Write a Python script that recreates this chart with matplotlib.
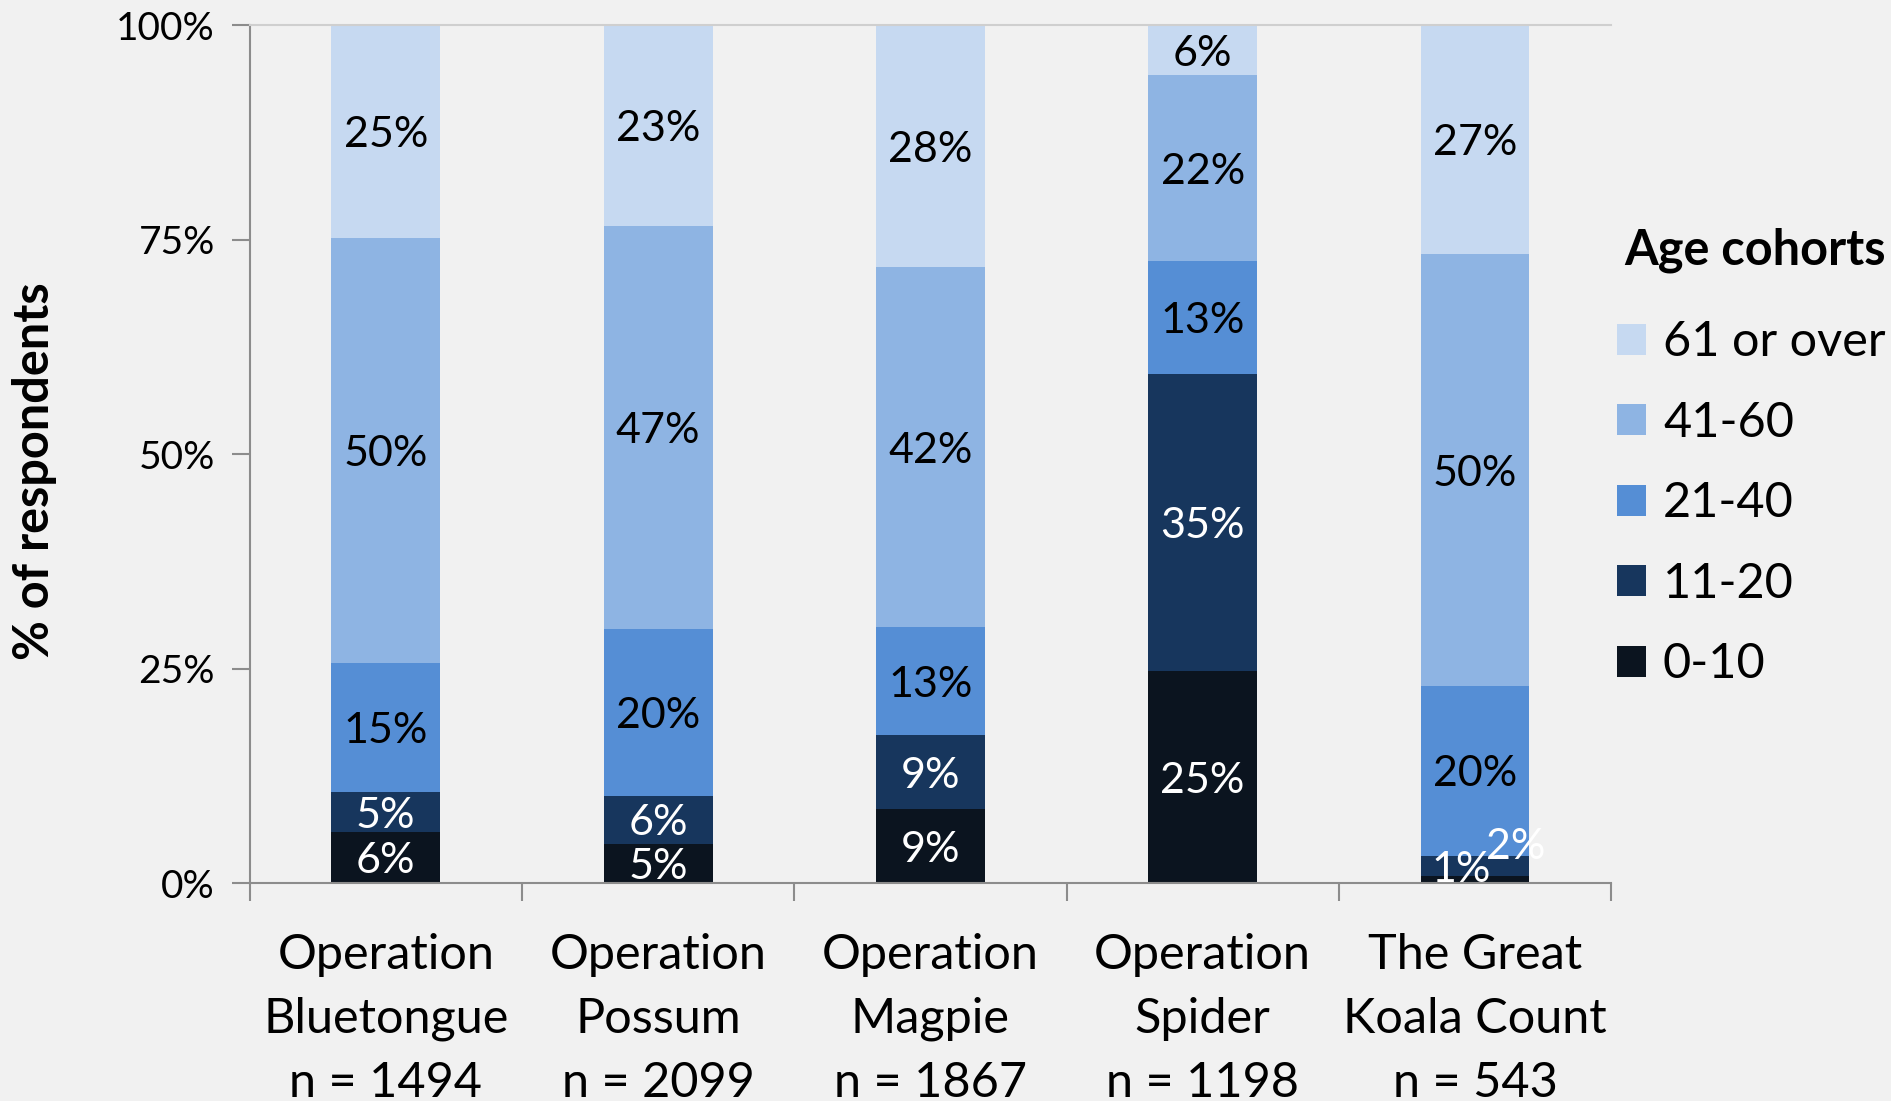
import matplotlib
matplotlib.use('Agg')
import matplotlib.pyplot as plt
import numpy as np
from matplotlib.patches import Patch

categories = [
    'Operation\nBluetongue\nn = 1494',
    'Operation\nPossum\nn = 2099',
    'Operation\nMagpie\nn = 1867',
    'Operation\nSpider\nn = 1198',
    'The Great\nKoala Count\nn = 543',
]
cohorts = ['0-10', '11-20', '21-40', '41-60', '61 or over']
# percent of respondents per cohort and survey
age_0_10 = [5.9, 4.6, 8.6, 24.7, 0.8]
age_11_20 = [4.7, 5.5, 8.6, 34.6, 2.4]
age_21_40 = [15.0, 19.5, 12.6, 13.2, 19.8]
age_41_60 = [49.6, 47.0, 42.0, 21.7, 50.3]
age_61_over = [24.8, 23.4, 28.2, 5.8, 26.7]

colors = ['#0b141f', '#17365d', '#558ed5', '#8eb4e3', '#c6d9f1']
text_colors = ['white', 'white', 'black', 'black', 'black']

plt.rcParams['font.family'] = ['Lato', 'DejaVu Sans']
bg = '#f1f1f1'

fig = plt.figure(figsize=(18.91, 11.01), dpi=100, facecolor=bg)
ax = fig.add_axes([0.132, 0.198, 0.720, 0.779], facecolor=bg)

series = [age_0_10, age_11_20, age_21_40, age_41_60, age_61_over]
x = np.arange(len(categories))
bottom = np.zeros(len(categories))
for i, vals in enumerate(series):
    vals = np.array(vals)
    ax.bar(x, vals, 0.4, bottom=bottom, color=colors[i], label=cohorts[i], zorder=2)
    for j, v in enumerate(vals):
        cx, cy = x[j], bottom[j] + v / 2
        # tiny slices on the koala bar get nudged like the original
        if j == 4 and i == 0:
            cx, cy = x[j] - 0.05, cy + 1.5
        elif j == 4 and i == 1:
            cx, cy = x[j] + 0.15, cy + 2.6
        ax.text(cx, cy, f'{v:.0f}%', ha='center', va='center_baseline', fontsize=31,
                color=text_colors[i], zorder=3)
    bottom += vals

ax.set_xlim(-0.5, len(categories) - 0.5)
ax.set_ylim(0, 100)
ax.set_yticks([0, 25, 50, 75, 100])
ax.set_yticklabels(['0%', '25%', '50%', '75%', '100%'], fontsize=28)
ax.tick_params(axis='y', length=13, width=1.5, color='#8c8c8c', pad=12)

# category ticks sit between the bars, labels under each bar
ax.set_xticks(np.arange(-0.5, len(categories), 1.0))
ax.set_xticklabels([])
ax.set_xticks(x, minor=True)
ax.set_xticklabels(categories, minor=True, fontsize=35, linespacing=1.55)
ax.tick_params(axis='x', which='major', length=13, width=1.5, color='#8c8c8c')
ax.tick_params(axis='x', which='minor', length=0, pad=36)

for side in ['left', 'bottom']:
    ax.spines[side].set_color('#8c8c8c')
    ax.spines[side].set_linewidth(1.5)
ax.spines['top'].set_color('#cfcfcf')
ax.spines['top'].set_linewidth(1.5)
ax.spines['right'].set_visible(False)

fig.text(0.018, 0.572, '% of respondents', rotation=90, ha='center', va='center',
         fontsize=35, fontweight='bold')

fig.text(0.859, 0.773, 'Age cohorts', ha='left', va='center', fontsize=35,
         fontweight='bold')
handles = [Patch(facecolor=colors[i], label=cohorts[i]) for i in range(len(cohorts) - 1, -1, -1)]
leg = fig.legend(handles=handles, loc='upper left', bbox_to_anchor=(0.855, 0.709),
                 frameon=False, fontsize=35,
                 handlelength=0.6, handleheight=0.6, handletextpad=0.35,
                 labelspacing=0.75, borderpad=0, borderaxespad=0)

fig.savefig('out.png', dpi=100, facecolor=bg)
